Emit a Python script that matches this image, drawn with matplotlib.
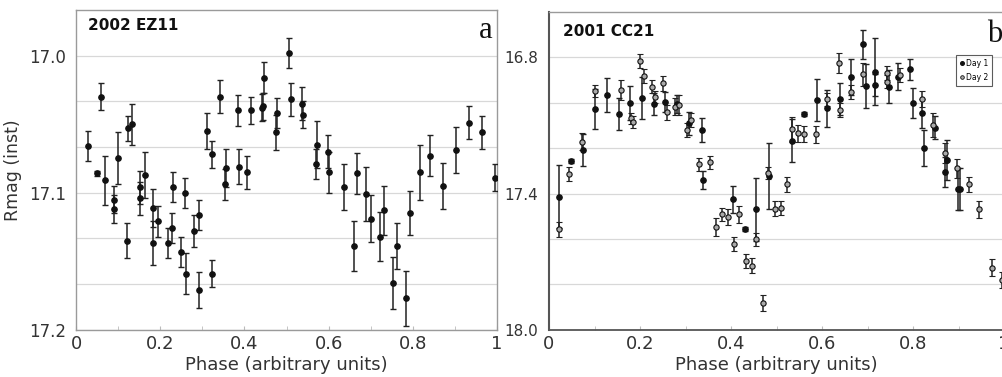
import matplotlib
matplotlib.use("Agg")
import matplotlib.pyplot as plt
from matplotlib.lines import Line2D
import numpy as np

# ---------------- Panel a: 2002 EZ11 ----------------
a_phase = [0.029, 0.049, 0.060, 0.068, 0.090, 0.090, 0.100, 0.121, 0.123, 0.133,
           0.153, 0.153, 0.164, 0.184, 0.184, 0.195, 0.219, 0.227, 0.230, 0.249,
           0.260, 0.262, 0.281, 0.292, 0.292, 0.312, 0.322, 0.323, 0.343, 0.354,
           0.356, 0.385, 0.386, 0.407, 0.415, 0.441, 0.443, 0.447, 0.475, 0.478,
           0.507, 0.510, 0.536, 0.540, 0.570, 0.573, 0.599, 0.602, 0.637, 0.661,
           0.668, 0.690, 0.700, 0.722, 0.732, 0.754, 0.762, 0.785, 0.793, 0.817,
           0.841, 0.871, 0.903, 0.933, 0.965, 0.995]
a_mag = [17.066, 17.086, 17.030, 17.091, 17.105, 17.112, 17.075, 17.135, 17.053, 17.050,
         17.096, 17.104, 17.087, 17.111, 17.137, 17.121, 17.137, 17.126, 17.096, 17.143,
         17.100, 17.159, 17.128, 17.116, 17.171, 17.055, 17.072, 17.159, 17.030, 17.094,
         17.082, 17.040, 17.081, 17.085, 17.040, 17.038, 17.037, 17.016, 17.056, 17.042,
         16.998, 17.032, 17.035, 17.043, 17.079, 17.065, 17.070, 17.085, 17.096, 17.139,
         17.086, 17.101, 17.119, 17.132, 17.113, 17.166, 17.139, 17.177, 17.115, 17.085,
         17.073, 17.095, 17.069, 17.049, 17.056, 17.089]
a_err = [0.011, 0.002, 0.010, 0.018, 0.010, 0.010, 0.019, 0.013, 0.009, 0.015,
         0.012, 0.012, 0.017, 0.014, 0.016, 0.011, 0.011, 0.011, 0.011, 0.011,
         0.011, 0.015, 0.012, 0.011, 0.013, 0.013, 0.010, 0.010, 0.012, 0.011,
         0.014, 0.011, 0.013, 0.012, 0.010, 0.010, 0.010, 0.011, 0.013, 0.011,
         0.011, 0.012, 0.012, 0.010, 0.011, 0.017, 0.012, 0.015, 0.017, 0.018,
         0.015, 0.020, 0.017, 0.018, 0.018, 0.019, 0.017, 0.020, 0.016, 0.020,
         0.015, 0.017, 0.017, 0.012, 0.012, 0.010]

# ---------------- Panel b: 2001 CC21 ----------------
b1_phase = [0.023, 0.048, 0.075, 0.101, 0.127, 0.153, 0.178, 0.204, 0.231, 0.255,
            0.282, 0.308, 0.336, 0.338, 0.405, 0.431, 0.456, 0.484, 0.535, 0.560,
            0.588, 0.612, 0.639, 0.664, 0.691, 0.696, 0.716, 0.716, 0.747, 0.768,
            0.794, 0.799, 0.819, 0.825, 0.848, 0.870, 0.875, 0.899, 0.903]
b1_mag = [17.414, 17.257, 17.208, 17.029, 16.966, 17.050, 17.000, 16.978, 17.006, 16.996,
          17.006, 17.091, 17.120, 17.341, 17.426, 17.556, 17.470, 17.323, 17.167, 17.050,
          16.988, 17.025, 16.985, 16.888, 16.743, 16.926, 16.863, 16.922, 16.929, 16.885,
          16.853, 17.003, 17.047, 17.198, 17.110, 17.304, 17.252, 17.381, 17.381]
b1_err = [0.140, 0.010, 0.070, 0.088, 0.076, 0.070, 0.075, 0.093, 0.048, 0.044,
          0.040, 0.050, 0.051, 0.040, 0.059, 0.008, 0.140, 0.144, 0.095, 0.008,
          0.094, 0.081, 0.070, 0.079, 0.064, 0.099, 0.149, 0.050, 0.073, 0.059,
          0.048, 0.066, 0.062, 0.079, 0.050, 0.066, 0.088, 0.092, 0.092]

b2_phase = [0.021, 0.045, 0.072, 0.100, 0.158, 0.180, 0.184, 0.200, 0.209, 0.227,
            0.234, 0.251, 0.259, 0.278, 0.286, 0.303, 0.312, 0.329, 0.354, 0.367,
            0.380, 0.393, 0.407, 0.418, 0.433, 0.446, 0.456, 0.470, 0.482, 0.496,
            0.509, 0.522, 0.533, 0.548, 0.560, 0.586, 0.612, 0.637, 0.639, 0.664,
            0.691, 0.742, 0.742, 0.771, 0.819, 0.845, 0.870, 0.896, 0.922, 0.946,
            0.973, 0.995]
b2_mag = [17.558, 17.314, 17.172, 16.947, 16.944, 17.069, 17.084, 16.815, 16.882, 16.929,
          16.973, 16.915, 17.042, 17.018, 17.010, 17.120, 17.076, 17.271, 17.263, 17.546,
          17.492, 17.505, 17.624, 17.492, 17.697, 17.718, 17.602, 17.884, 17.310, 17.468,
          17.463, 17.360, 17.116, 17.135, 17.138, 17.139, 16.985, 16.826, 17.032, 16.952,
          16.874, 16.868, 16.907, 16.878, 16.985, 17.098, 17.223, 17.289, 17.360, 17.470,
          17.727, 17.781]
b2_err = [0.033, 0.030, 0.037, 0.026, 0.044, 0.025, 0.025, 0.030, 0.033, 0.030,
          0.026, 0.033, 0.033, 0.037, 0.046, 0.029, 0.030, 0.029, 0.030, 0.040,
          0.030, 0.035, 0.031, 0.038, 0.032, 0.033, 0.029, 0.035, 0.025, 0.033,
          0.032, 0.035, 0.055, 0.037, 0.034, 0.037, 0.030, 0.044, 0.030, 0.030,
          0.050, 0.030, 0.030, 0.030, 0.035, 0.051, 0.044, 0.042, 0.034, 0.037,
          0.038, 0.035]

x_ticks = [0, 0.2, 0.4, 0.6, 0.8, 1.0]
x_ticklabels = ["0", "0.2", "0.4", "0.6", "0.8", "1"]
a_yticks = [17.0, 17.1, 17.2]
a_yticklabels = ["17.0", "17.1", "17.2"]
a_yminor = [17.0 + 1 / 30, 17.0 + 2 / 30, 17.1 + 1 / 30, 17.1 + 2 / 30]
b_yticks = [16.8, 17.4, 18.0]
b_yticklabels = ["16.8", "17.4", "18.0"]
b_yminor = [17.0, 17.2, 17.6, 17.8]

W, H = 1002, 377
fig = plt.figure(figsize=(W / 100, H / 100), dpi=100)
fig.patch.set_facecolor("white")

def px_axes(l, r, t, b):
    return fig.add_axes([l / W, 1 - b / H, (r - l) / W, (b - t) / H])

axa = px_axes(76, 497, 10, 329.7)
axb = px_axes(549, 1004, 12, 329.7)

ekw = dict(fmt="o", color="#111111", ecolor="#222222", elinewidth=1.1,
           capsize=2.2, capthick=1.0, markersize=3.8, zorder=3)

axa.errorbar(a_phase, a_mag, yerr=a_err, **ekw)
axb.errorbar(b1_phase, b1_mag, yerr=b1_err, **ekw)
axb.errorbar(b2_phase, b2_mag, yerr=b2_err, fmt="o", color="#111111", ecolor="#222222",
             elinewidth=1.1, capsize=2.2, capthick=1.0, markersize=3.8,
             markerfacecolor="#aaaaaa", markeredgecolor="#111111", markeredgewidth=0.8,
             zorder=3)

for ax, ylim, yt, ytl, ymin in [
    (axa, (17.2, 16.9667), a_yticks, a_yticklabels, a_yminor),
    (axb, (18.0, 16.6), b_yticks, b_yticklabels, b_yminor),
]:
    ax.set_xlim(0, 1)
    ax.set_ylim(*ylim)
    ax.set_xticks(x_ticks)
    ax.set_xticklabels(x_ticklabels)
    ax.set_xticks(np.arange(0.1, 1.0, 0.2), minor=True)
    ax.set_yticks(yt)
    ax.set_yticklabels(ytl)
    ax.set_yticks(ymin, minor=True)
    ax.grid(True, axis="y", which="both", color="#d8d8d8", linewidth=0.9, zorder=0)
    ax.set_axisbelow(True)
    ax.tick_params(axis="x", which="major", labelsize=13, length=3, direction="in",
                   color="#bbbbbb", pad=4, labelcolor="#333333")
    ax.tick_params(axis="y", which="both", length=0)
    ax.tick_params(axis="x", which="minor", length=3, direction="in", color="#bbbbbb")
    ax.set_xlabel("Phase (arbitrary units)", fontsize=13, color="#333333", labelpad=2)

axa.tick_params(axis="y", which="major", labelsize=12, pad=7, labelcolor="#333333")
axb.tick_params(axis="y", which="major", labelsize=11, pad=8, labelcolor="#333333")

for sp in axa.spines.values():
    sp.set_color("#9a9a9a")
    sp.set_linewidth(1.0)
for name, sp in axb.spines.items():
    sp.set_color("#9a9a9a")
    sp.set_linewidth(1.0)
axb.spines["left"].set_color("#555555")
axb.spines["left"].set_linewidth(1.5)
axb.spines["bottom"].set_color("#555555")
axb.spines["bottom"].set_linewidth(1.3)

axa.set_ylabel("Rmag (inst)", fontsize=12.5, color="#333333", labelpad=5)

axa.text(0.028, 0.95, "2002 EZ11", transform=axa.transAxes, fontsize=11,
         fontweight="bold", ha="left", va="center", color="#111111")
axb.text(0.03, 0.94, "2001 CC21", transform=axb.transAxes, fontsize=11,
         fontweight="bold", ha="left", va="center", color="#111111")

fig.text(486 / W, 1 - 30 / H, "a", fontsize=22, family="Liberation Serif",
         ha="center", va="center", color="#111111")
fig.text(995 / W, 1 - 34 / H, "b", fontsize=22, family="Liberation Serif",
         ha="center", va="center", color="#111111")

handles = [
    Line2D([], [], marker="o", linestyle="none", color="#111111", markersize=2.6),
    Line2D([], [], marker="o", linestyle="none", markerfacecolor="#aaaaaa",
           markeredgecolor="#111111", markersize=2.6, markeredgewidth=0.6),
]
leg = axb.legend(handles, ["Day 1", "Day 2"], loc="upper right",
                 bbox_to_anchor=(992 / W, 1 - 55 / H), bbox_transform=fig.transFigure,
                 fontsize=5.5, frameon=True, fancybox=False, borderpad=0.5,
                 handlelength=0.5, handletextpad=0.3, labelspacing=0.7,
                 borderaxespad=0)
leg.get_frame().set_edgecolor("#333333")
leg.get_frame().set_linewidth(0.8)

fig.savefig("out.png", dpi=100, facecolor="white")
